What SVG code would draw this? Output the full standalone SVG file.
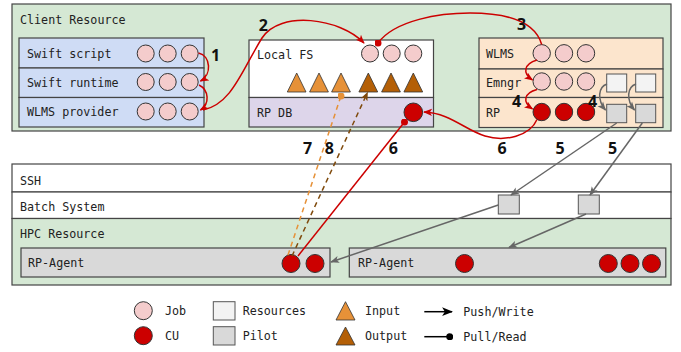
<svg xmlns="http://www.w3.org/2000/svg" width="681" height="352" viewBox="0 0 681 352">
<style>
.t{font-family:"DejaVu Sans Mono","Liberation Mono",monospace;font-size:11.7px;fill:#222}
.n{font-family:"Open Sans","Noto Sans","DejaVu Sans",sans-serif;font-size:16px;font-weight:700;fill:#111}
.box{stroke:#444;stroke-width:1.2}
.green{fill:#d5e8d4}
.blue{fill:#cfdcf5}
.peach{fill:#fce5cd}
.lav{fill:#ddd5ea}
.white{fill:#fff}
.job{fill:#f4cccc;stroke:#333;stroke-width:1}
.cu{fill:#cc0000;stroke:#333;stroke-width:1}
.res{fill:#f3f3f3;stroke:#555;stroke-width:1}
.pil{fill:#d9d9d9;stroke:#555;stroke-width:1}
.in{fill:#e69138;stroke:#333;stroke-width:0.8}
.out{fill:#b45f06;stroke:#333;stroke-width:0.8}
.red{fill:none;stroke:#cc0000;stroke-width:1.5}
.grey{fill:none;stroke:#666;stroke-width:1.5}
.or{fill:none;stroke:#e69138;stroke-width:1.5;stroke-dasharray:5 4}
.br{fill:none;stroke:#7f4a0c;stroke-width:1.5;stroke-dasharray:5 4}
</style>
<defs>
<marker id="aRed" viewBox="0 0 10 10" refX="9" refY="5" markerWidth="9" markerHeight="9" markerUnits="userSpaceOnUse" orient="auto"><path d="M0,1 L10,5 L0,9 L2.5,5 z" fill="#cc0000"/></marker>
<marker id="dRed" viewBox="0 0 8 8" refX="4" refY="4" markerWidth="7" markerHeight="7" markerUnits="userSpaceOnUse"><circle cx="4" cy="4" r="4" fill="#cc0000"/></marker>
<marker id="aGrey" viewBox="0 0 10 10" refX="9" refY="5" markerWidth="9" markerHeight="9" markerUnits="userSpaceOnUse" orient="auto"><path d="M0,1 L10,5 L0,9 L2.5,5 z" fill="#666"/></marker>
<marker id="aBrown" viewBox="0 0 10 10" refX="9" refY="5" markerWidth="9" markerHeight="9" markerUnits="userSpaceOnUse" orient="auto"><path d="M0,1 L10,5 L0,9 L2.5,5 z" fill="#7f4a0c"/></marker>
<marker id="dOr" viewBox="0 0 8 8" refX="4" refY="4" markerWidth="7" markerHeight="7" markerUnits="userSpaceOnUse"><circle cx="4" cy="4" r="4" fill="#e69138"/></marker>
<marker id="aBlack" viewBox="0 0 10 10" refX="9" refY="5" markerWidth="11" markerHeight="11" markerUnits="userSpaceOnUse" orient="auto"><path d="M0,1 L10,5 L0,9 L2.5,5 z" fill="#000"/></marker>
<marker id="dBlack" viewBox="0 0 8 8" refX="4" refY="4" markerWidth="7" markerHeight="7" markerUnits="userSpaceOnUse"><circle cx="4" cy="4" r="4" fill="#000"/></marker>
</defs>
<rect width="681" height="352" fill="#fff"/>

<g id="client-resource">
<rect class="box green" x="12" y="4" width="659" height="127"/>
<text class="t" x="20" y="24">Client Resource</text>
</g>

<g id="swift-stack">
<rect class="box blue" x="19" y="38" width="185" height="30"/>
<rect class="box blue" x="19" y="68" width="185" height="29.5"/>
<rect class="box blue" x="19" y="97.5" width="185" height="29.5"/>
<text class="t" x="27" y="57.5">Swift script</text>
<text class="t" x="27" y="87">Swift runtime</text>
<text class="t" x="27" y="116">WLMS provider</text>
<circle class="job" cx="145.7" cy="53.5" r="8.5"/><circle class="job" cx="167.7" cy="53.5" r="8.5"/><circle class="job" cx="189.7" cy="53.5" r="8.5"/>
<circle class="job" cx="145.7" cy="82" r="8.5"/><circle class="job" cx="167.7" cy="82" r="8.5"/><circle class="job" cx="189.7" cy="82" r="8.5"/>
<circle class="job" cx="145.7" cy="111.5" r="8.5"/><circle class="job" cx="167.7" cy="111.5" r="8.5"/><circle class="job" cx="189.7" cy="111.5" r="8.5"/>
</g>

<g id="local-fs">
<rect class="box white" x="249" y="40" width="184.5" height="57.5"/>
<rect class="box lav" x="249" y="97.5" width="184.5" height="29.5"/>
<text class="t" x="257" y="59">Local FS</text>
<text class="t" x="257" y="116.5">RP DB</text>
<circle class="job" cx="370" cy="53.5" r="8.5"/><circle class="job" cx="391.7" cy="53.5" r="8.5"/><circle class="job" cx="413.3" cy="53.5" r="8.5"/>
<polygon class="in" points="296.7,73 287.3,92 306,92"/>
<polygon class="in" points="319,73 309.6,92 328.4,92"/>
<polygon class="in" points="341,73 331.6,92 350.4,92"/>
<polygon class="out" points="368.3,73 358.9,92 377.7,92"/>
<polygon class="out" points="391,73 381.6,92 400.4,92"/>
<polygon class="out" points="413.3,73 403.9,92 422.7,92"/>
<circle class="cu" cx="413.3" cy="112.3" r="9.3"/>
</g>

<g id="wlms-stack">
<rect class="box peach" x="479" y="38" width="184" height="31"/>
<rect class="box peach" x="479" y="69" width="184" height="28.5"/>
<rect class="box peach" x="479" y="97.5" width="184" height="30"/>
<text class="t" x="486" y="57.5">WLMS</text>
<text class="t" x="486" y="87">Emngr</text>
<text class="t" x="486" y="116.5">RP</text>
<circle class="job" cx="541.7" cy="53.3" r="8.7"/><circle class="job" cx="564" cy="53.3" r="8.7"/><circle class="job" cx="586" cy="53.3" r="8.7"/>
<circle class="job" cx="541.7" cy="81.5" r="8.7"/><circle class="job" cx="564" cy="81.5" r="8.7"/><circle class="job" cx="586" cy="81.5" r="8.7"/>
<circle class="cu" cx="541.7" cy="112" r="8.7"/><circle class="cu" cx="564" cy="112" r="8.7"/><circle class="cu" cx="586" cy="112" r="8.7"/>
<rect class="res" x="606.7" y="74" width="20" height="18"/>
<rect class="res" x="635.7" y="74" width="20" height="18"/>
<rect class="pil" x="606.7" y="104.3" width="20" height="18.4"/>
<rect class="pil" x="635.7" y="104.3" width="20" height="18.4"/>
</g>

<g id="ssh">
<rect class="box white" x="12" y="164" width="659" height="28"/>
<text class="t" x="20" y="185">SSH</text>
</g>

<g id="batch-system">
<rect class="box white" x="12" y="192" width="659" height="26.5"/>
<text class="t" x="20" y="210.5">Batch System</text>
<rect class="pil" x="498.3" y="195" width="21" height="19"/>
<rect class="pil" x="578.3" y="195" width="21" height="19"/>
</g>

<g id="hpc-resource">
<rect class="box green" x="12" y="218.5" width="659" height="66.5"/>
<text class="t" x="20" y="237.5">HPC Resource</text>
</g>

<g id="rp-agent-1">
<rect class="box" fill="#d9d9d9" x="21" y="248" width="309" height="29"/>
<text class="t" x="28" y="266.5">RP-Agent</text>
<circle class="cu" cx="291" cy="263.5" r="9"/><circle class="cu" cx="315" cy="263.5" r="9"/>
</g>

<g id="rp-agent-2">
<rect class="box" fill="#d9d9d9" x="349.3" y="248" width="316.5" height="29"/>
<text class="t" x="358" y="266.5">RP-Agent</text>
<circle class="cu" cx="464.5" cy="263.5" r="9"/>
<circle class="cu" cx="608.3" cy="263.5" r="9"/><circle class="cu" cx="630" cy="263.5" r="9"/><circle class="cu" cx="651.5" cy="263.5" r="9"/>
</g>

<g id="connectors">
<path class="red" d="M198.5,53 C211,56 212,75 200.5,81" marker-end="url(#aRed)"/>
<path class="red" d="M199,85 C209,90 210,104 200.5,110" marker-end="url(#aRed)"/>
<path class="red" d="M203,110 C232,104 242,70 262,38 C280,10 340,18 364,43" marker-end="url(#aRed)"/>
<path class="red" d="M541.7,44.5 C535,22 510,13 470,13 C440,13 395,20 378,43" marker-end="url(#dRed)"/>
<path class="red" d="M537,60 C524,64 522,73 532.5,80" marker-end="url(#aRed)"/>
<path class="red" d="M537,89.5 C524,93 522,102 532.5,109" marker-end="url(#aRed)"/>
<path class="grey" d="M607,84 C598,87 597,100 605.5,110" marker-end="url(#aGrey)"/>
<path class="grey" d="M636,84 C627,87 626,100 634.5,110" marker-end="url(#aGrey)"/>
<path class="red" d="M537,119.5 C530,136 505,142 485,136 C465,130 450,113 424,112" marker-end="url(#aRed)"/>
<path class="red" d="M298,256 L404.5,122" marker-end="url(#dRed)"/>
<path class="or" d="M288,255 L341,96" marker-end="url(#dOr)"/>
<path class="br" d="M292,256 L367.5,92.5" marker-end="url(#aBrown)"/>
<path class="grey" d="M616.7,123 L511,195" marker-end="url(#aGrey)"/>
<path class="grey" d="M642.3,123 L590,195" marker-end="url(#aGrey)"/>
<path class="grey" d="M498.3,205 L331,262" marker-end="url(#aGrey)"/>
<path class="grey" d="M586,214 L509,247.5" marker-end="url(#aGrey)"/>
</g>

<g id="step-labels">
<text class="n" x="215.7" y="60.5" text-anchor="middle">1</text>
<text class="n" x="263.3" y="30.5" text-anchor="middle">2</text>
<text class="n" x="521.5" y="30" text-anchor="middle">3</text>
<text class="n" x="516.5" y="106.5" text-anchor="middle">4</text>
<text class="n" x="592.5" y="106.5" text-anchor="middle">4</text>
<text class="n" x="560" y="154" text-anchor="middle">5</text>
<text class="n" x="612.7" y="154" text-anchor="middle">5</text>
<text class="n" x="502" y="154" text-anchor="middle">6</text>
<text class="n" x="393.3" y="154" text-anchor="middle">6</text>
<text class="n" x="307.7" y="154" text-anchor="middle">7</text>
<text class="n" x="329.3" y="154" text-anchor="middle">8</text>
</g>

<g id="legend">
<circle class="job" cx="143.3" cy="310.7" r="9"/>
<text class="t" x="165" y="315">Job</text>
<circle class="cu" cx="143.3" cy="335.7" r="9"/>
<text class="t" x="165" y="340">CU</text>
<rect class="res" x="213.3" y="301.7" width="21.7" height="18.3"/>
<text class="t" x="242.7" y="315">Resources</text>
<rect class="pil" x="213.3" y="326.7" width="21.7" height="18.3"/>
<text class="t" x="242.7" y="340">Pilot</text>
<polygon class="in" points="345.5,301.7 336,320 355,320"/>
<text class="t" x="365" y="315">Input</text>
<polygon class="out" points="345.5,327 336,345 355,345"/>
<text class="t" x="365" y="340">Output</text>
<path d="M424.3,311.7 L452,311.7" stroke="#000" stroke-width="1.5" fill="none" marker-end="url(#aBlack)"/>
<text class="t" x="463.3" y="316">Push/Write</text>
<path d="M424.3,336.7 L449.7,336.7" stroke="#000" stroke-width="1.5" fill="none" marker-end="url(#dBlack)"/>
<text class="t" x="463.3" y="341">Pull/Read</text>
</g>
</svg>
